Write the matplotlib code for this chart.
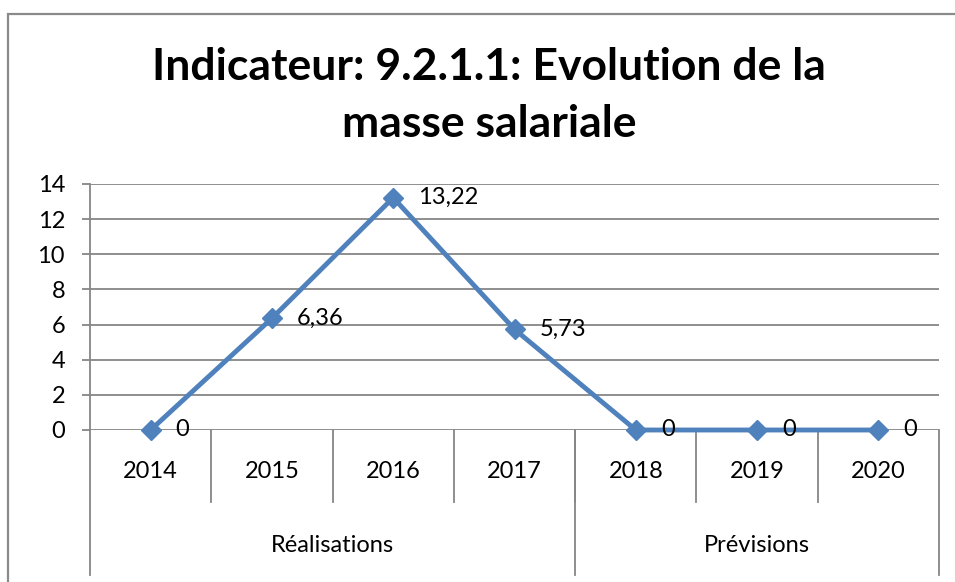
import matplotlib
matplotlib.use("Agg")
import matplotlib.pyplot as plt
from matplotlib.patches import Rectangle

years = ["2014", "2015", "2016", "2017", "2018", "2019", "2020"]
values = [0, 6.36, 13.22, 5.73, 0, 0, 0]
groups = ["Réalisations", "Prévisions"]
group_sizes = [4, 3]
yticks = [0, 2, 4, 6, 8, 10, 12, 14]
title_lines = ["Indicateur: 9.2.1.1: Evolution de la", "masse salariale"]

plt.rcParams['font.family'] = ['Lato', 'DejaVu Sans']
W, H = 955, 582
fig = plt.figure(figsize=(W / 100, H / 100), dpi=100)
fig.patch.set_facecolor('white')

# outer frame
fig.add_artist(Rectangle((8 / W, -0.1), 1.2, (H - 14) / H + 0.1, transform=fig.transFigure,
                         fill=False, edgecolor='#8a8a8a', linewidth=1.6))

ax_l, ax_r, ax_t, ax_b = 90, 939, 184, 430
ax = fig.add_axes([ax_l / W, (H - ax_b) / H, (ax_r - ax_l) / W, (ax_b - ax_t) / H])
ax.set_facecolor('none')

grid_c = '#868686'
fs = 17
x = list(range(len(years)))
ax.plot(x, values, color='#4F81BD', linewidth=3.5, marker='D', markersize=10,
        markerfacecolor='#4F81BD', markeredgecolor='#4F81BD', zorder=5, clip_on=False)

for xi, v in zip(x, values):
    lab = ("%g" % v).replace('.', ',')
    ax.annotate(lab, (xi, v), xytext=(18, 0), textcoords='offset points',
                ha='left', va='center', fontsize=fs, color='black', zorder=6)

ax.set_xlim(-0.5, len(years) - 0.5)
ax.set_ylim(0, 14)
ax.set_yticks(yticks)
ax.set_yticklabels([str(t) for t in yticks], fontsize=fs)
ax.tick_params(axis='y', length=6, width=1.3, color=grid_c, pad=12)
ax.set_xticks([])
for yt in yticks:
    ax.axhline(yt, color=grid_c, linewidth=1.3, zorder=1)

for s in ['top', 'right', 'bottom']:
    ax.spines[s].set_visible(False)
ax.spines['left'].set_color(grid_c)
ax.spines['left'].set_linewidth(1.3)

hpx = ax_b - ax_t
tr = ax.get_xaxis_transform()
sep_y = -(502 - ax_b) / hpx
grp_y = -(575 - ax_b) / hpx
yr_lab_y = -(472 - ax_b) / hpx
grp_lab_y = -(545 - ax_b) / hpx

# year labels and separators
for i, yr in enumerate(years):
    ax.text(i, yr_lab_y, yr, transform=tr, ha='center', va='center', fontsize=fs)
for i in range(1, len(years)):
    ax.plot([i - 0.5, i - 0.5], [0, sep_y], transform=tr, color=grid_c, lw=1.3, clip_on=False)

# group separators and labels
start = -0.5
bounds = [start]
for g, n in zip(groups, group_sizes):
    end = start + n
    ax.text((start + end) / 2, grp_lab_y, g, transform=tr, ha='center', va='center', fontsize=fs)
    bounds.append(end)
    start = end
for b in bounds:
    ax.plot([b, b], [0, grp_y], transform=tr, color=grid_c, lw=1.3, clip_on=False)

for line, base in zip(title_lines, [80, 137]):
    fig.text(489 / W, 1 - base / H, line, ha='center', va='baseline', fontsize=32,
             fontweight='bold')

fig.savefig('out.png', dpi=100)
